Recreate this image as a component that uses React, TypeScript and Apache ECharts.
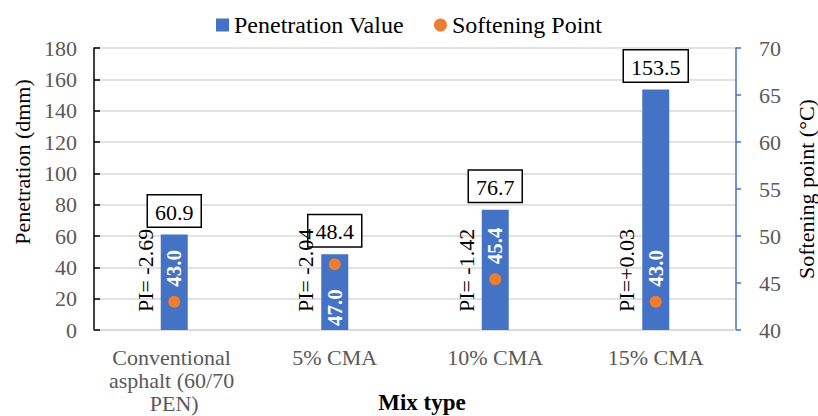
import React, { useEffect, useRef } from "react";
import * as echarts from "echarts";

const categories = ["Conventional asphalt (60/70 PEN)", "5% CMA", "10% CMA", "15% CMA"];
const penetration = [60.9, 48.4, 76.7, 153.5];
const softening = [43.0, 47.0, 45.4, 43.0];
const piLabels = ["PI= -2.69", "PI= -2.04", "PI= -1.42", "PI=+0.03"];
const leftTicks = { min: 0, max: 180, interval: 20 };
const rightTicks = { min: 40, max: 70, interval: 5 };

const FONT = "Liberation Serif";
const BLUE = "#4472C4";
const ORANGE = "#ED7D31";

export default function App() {
  const ref = useRef<HTMLDivElement>(null);
  useEffect(() => {
    if (!ref.current) return;
    const chart = echarts.init(ref.current, undefined, { renderer: "svg" });
    chart.setOption({
      animation: false,
      textStyle: { fontFamily: FONT },
      legend: {
        top: 8,
        left: "center",
        itemWidth: 13,
        itemHeight: 13,
        itemGap: 30,
        textStyle: { fontFamily: FONT, fontSize: 24, color: "#000" },
        data: [
          { name: "Penetration Value", icon: "rect" },
          { name: "Softening Point", icon: "circle" },
        ],
      },
      grid: { left: 94, right: 82, top: 48, bottom: 86, containLabel: false, outerBoundsMode: "none" },
      xAxis: {
        type: "category",
        data: categories,
        name: "Mix type",
        nameLocation: "middle",
        nameGap: 61,
        nameMoveOverlap: false,
        nameTextStyle: {
          fontFamily: FONT,
          fontSize: 23,
          fontWeight: "bold",
          color: "#000",
          padding: [0, 0, 0, 14],
        },
        axisLine: { show: true, lineStyle: { color: "#d9d9d9", width: 1.5 } },
        axisTick: { show: false },
        axisLabel: {
          interval: 0,
          margin: 16,
          fontFamily: FONT,
          fontSize: 22,
          lineHeight: 23,
          color: "#595959",
          width: 135,
          overflow: "break",
        },
      },
      yAxis: [
        {
          type: "value",
          min: leftTicks.min,
          max: leftTicks.max,
          interval: leftTicks.interval,
          name: "Penetration (dmm)",
          nameLocation: "middle",
          nameRotate: 90,
          nameGap: 61,
          nameMoveOverlap: false,
          nameTextStyle: { fontFamily: FONT, fontSize: 22, color: "#000", padding: [0, 0, 0, 54] },
          axisLine: { show: true, lineStyle: { color: "#000", width: 1.5 } },
          axisTick: { show: true, inside: true, length: 6, lineStyle: { color: "#000", width: 1.5 } },
          axisLabel: { margin: 17, fontFamily: FONT, fontSize: 22, color: "#595959" },
          splitLine: { show: true, lineStyle: { color: "#d9d9d9", width: 1.5 } },
        },
        {
          type: "value",
          min: rightTicks.min,
          max: rightTicks.max,
          interval: rightTicks.interval,
          name: "Softening point (°C)",
          nameLocation: "middle",
          nameRotate: 90,
          nameGap: 59,
          nameMoveOverlap: false,
          nameTextStyle: { fontFamily: FONT, fontSize: 22, color: "#000" },
          axisLine: { show: true, lineStyle: { color: BLUE, width: 1.5 } },
          axisTick: { show: true, inside: false, length: 5, lineStyle: { color: BLUE, width: 1.5 } },
          axisLabel: { margin: 23, fontFamily: FONT, fontSize: 22, color: "#595959" },
          splitLine: { show: false },
        },
      ],
      series: [
        {
          name: "Penetration Value",
          type: "bar",
          yAxisIndex: 0,
          data: penetration,
          barWidth: 27,
          itemStyle: { color: BLUE },
          label: {
            show: true,
            position: "top",
            distance: 8,
            formatter: (p: any) => Number(p.value).toFixed(1),
            fontFamily: FONT,
            fontSize: 22,
            lineHeight: 23,
            color: "#000",
            backgroundColor: "#fff",
            borderColor: "#000",
            borderWidth: 1.5,
            padding: [5, 7, 3, 7],
          },
          z: 2,
        },
        {
          name: "Softening Point",
          type: "scatter",
          yAxisIndex: 1,
          symbol: "circle",
          symbolSize: 12,
          itemStyle: { color: ORANGE, opacity: 1 },
          data: softening.map((v, i) => ({
            value: v,
            label:
              i === 1
                ? { position: "bottom", align: "right", distance: 19 }
                : { position: "top", align: "left", distance: 9 },
          })),
          label: {
            show: true,
            rotate: 90,
            verticalAlign: "middle",
            formatter: (p: any) => Number(p.value).toFixed(1),
            fontFamily: FONT,
            fontSize: 21,
            fontWeight: "bold",
            color: "#fff",
          },
          z: 3,
        },
        {
          name: "PI",
          type: "custom",
          yAxisIndex: 0,
          data: piLabels.map((_, i) => [i, 38]),
          renderItem: (params: any, api: any) => {
            const p = api.coord([api.value(0), api.value(1)]);
            return {
              type: "text",
              x: p[0] - 29,
              y: p[1],
              rotation: Math.PI / 2,
              style: {
                text: piLabels[params.dataIndex],
                fontFamily: FONT,
                fontSize: 22,
                fill: "#000",
                align: "center",
                verticalAlign: "middle",
              },
            };
          },
          z: 4,
        },
      ],
    });
    return () => chart.dispose();
  }, []);
  return <div ref={ref} style={{ width: 818, height: 416, position: "absolute", left: 0, top: 0 }} />;
}
